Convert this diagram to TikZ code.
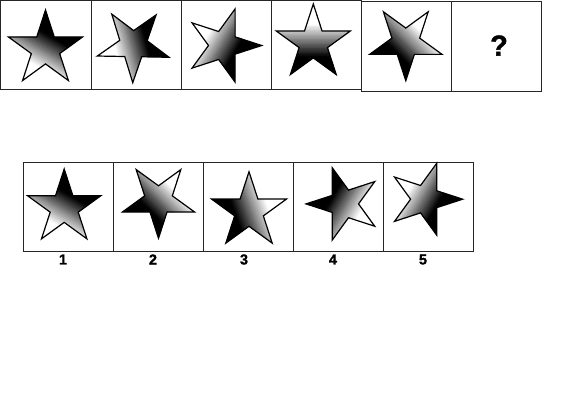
\documentclass[tikz,border=0pt]{standalone}
\usepackage{fontspec}
\setmainfont{Liberation Sans}
\newfontfamily\heavyfont[BoldFeatures={FakeBold=1.2}]{Liberation Sans}
\tikzset{
  cell/.style={draw=black!85, line width=0.9pt, inner sep=0pt, minimum width=#1},
  starline/.style={draw=black, line width=1.2pt, line join=miter},
  numlabel/.style={font=\heavyfont\bfseries\fontsize{14.5}{14.5}\selectfont, inner sep=0pt},
  qmark/.style={font=\heavyfont\bfseries\fontsize{29}{29}\selectfont, inner sep=0pt}
}
% #1 cx, #2 cy, #3 R, #4 visual angle of a point, #5 visual angle of the black end
\newcommand\drawstar[5]{%
  \begin{scope}
    \clip[shift={(#1,#2)}] ({-(#4)}:#3) \foreach \k in {1,...,9}{ -- ({-(#4)-36*\k}:{#3*(0.691+0.309*cos(180*\k))}) } -- cycle;
    \begin{scope}[shift={(#1,#2)}, rotate=#5, xshift={-0.07*#3}]
      \pgfmathsetmacro\halfw{0.42*#3}
      \fill[white] (-1.5*#3,-1.5*#3) rectangle (0,1.5*#3);
      \fill[black] (0,-1.5*#3) rectangle (1.5*#3,1.5*#3);
      \foreach \i in {0,...,39}{
        \pgfmathsetmacro\pc{100*(\i+0.5)/40}
        \fill[black!\pc] ({-\halfw+2*\halfw*\i/40},-1.5*#3) rectangle ({-\halfw+2*\halfw*(\i+1)/40+0.4},1.5*#3);
      }
    \end{scope}
  \end{scope}
  \draw[starline, shift={(#1,#2)}] ({-(#4)}:#3) \foreach \k in {1,...,9}{ -- ({-(#4)-36*\k}:{#3*(0.691+0.309*cos(180*\k))}) } -- cycle;
}
\begin{document}
\begin{tikzpicture}[x=1pt,y=-1pt]
\useasboundingbox[fill=white] (0,0) rectangle (583,416);
% top row
\node[cell=90.5pt, minimum height=89pt] (t1) at (45.75,45) {};
\node[cell=90pt, minimum height=89pt] (t2) at (136,45) {};
\node[cell=90pt, minimum height=89pt] (t3) at (226,45) {};
\node[cell=90pt, minimum height=89pt] (t4) at (316,45) {};
\node[cell=90pt, minimum height=90pt] (t5) at (406,46) {};
\node[cell=90pt, minimum height=90pt] (t6) at (496,46) {};
\node[qmark] (q) at (499,45.5) {?};
% bottom row
\node[cell=90pt, minimum height=89pt] (b1) at (68,206.5) {};
\node[cell=90pt, minimum height=89pt] (b2) at (158,206.5) {};
\node[cell=90pt, minimum height=89pt] (b3) at (248,206.5) {};
\node[cell=90pt, minimum height=89pt] (b4) at (338,206.5) {};
\node[cell=90pt, minimum height=89pt] (b5) at (428,206.5) {};
\node[numlabel] (l1) at (63,259.5) {1};
\node[numlabel] (l2) at (153,259.5) {2};
\node[numlabel] (l3) at (244,259.5) {3};
\node[numlabel] (l4) at (333,259.5) {4};
\node[numlabel] (l5) at (423,259.5) {5};
% stars
\drawstar{45.5}{49}{39}{90}{60}
\drawstar{133.4}{45}{37.7}{269}{15}
\drawstar{223.2}{45.5}{38.5}{0}{-30}
\drawstar{313.3}{43}{39}{90}{270}
\drawstar{405.8}{42.6}{38.1}{270}{225}
\drawstar{64.2}{207.6}{38.6}{90}{60}
\drawstar{158.5}{200.3}{38}{270}{225}
\drawstar{249}{211.2}{39.5}{90}{200}
\drawstar{344}{203.9}{38}{180}{150}
\drawstar{425}{199.2}{37.7}{0}{-30}
\end{tikzpicture}
\end{document}
